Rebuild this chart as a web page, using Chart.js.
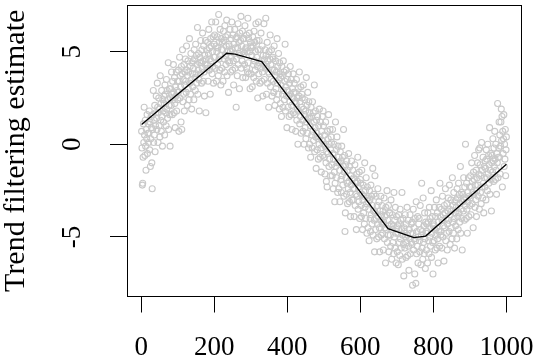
<!DOCTYPE html>
<html lang="en">
<head>
  <meta charset="UTF-8" />
  <title>Trend filtering estimate</title>
  <script src="https://cdn.jsdelivr.net/npm/chart.js"></script>
  <style>
    body { margin: 0; background: #fff; }
    #wrap { width: 534px; height: 358px; }
  </style>
</head>
<body>
  <div id="wrap"><canvas id="trendChart" width="534" height="358"></canvas></div>
  <script>
    // axis ticks
    const xTicks = [0, 200, 400, 600, 800, 1000];
    const yTicks = [-5, 0, 5];

    // fitted piecewise linear trend (knots)
    const fitX = [1, 234, 257, 330, 676, 747, 779, 1000];
    const fitY = [1.07, 4.91, 4.87, 4.46, -4.55, -5.03, -4.95, -1.07];

    // observations at x = 1..1000, 20 per line
    const yObs = [
      0.7,-0.2,-2.2,-2.1,-0.7,1.1,0.1,2.0,0.5,-0.6,1.3,-0.1,-1.4,0.8,0.3,1.6,-0.5,0.6,1.1,0.1,
      0.6,1.8,-0.3,1.2,-1.2,0.3,1.5,0.9,-1.0,-2.4,0.8,1.6,2.9,0.1,1.3,0.5,2.1,-0.4,1.0,1.7,
      2.6,1.4,0.8,3.3,2.0,0.1,1.7,2.5,1.0,1.9,0.4,3.7,1.3,2.2,0.7,2.9,1.5,-0.1,2.4,1.8,
      1.2,2.6,2.2,0.5,3.2,2.7,1.7,1.0,3.5,1.9,2.9,1.4,2.4,4.4,0.8,2.1,3.0,1.6,-0.1,2.5,
      3.0,2.1,3.9,2.7,1.6,3.4,2.4,4.3,2.8,1.7,3.6,2.2,0.9,3.1,2.6,3.9,1.8,2.9,3.4,2.4,
      2.8,4.0,0.7,3.4,4.7,2.5,3.7,3.1,1.2,4.2,0.8,3.8,5.1,2.3,3.5,2.7,4.3,1.8,3.2,3.9,
      4.6,3.4,2.8,5.3,4.0,2.1,3.7,4.5,3.0,3.9,2.4,5.7,3.3,4.2,2.7,4.9,3.5,1.9,4.4,3.8,
      3.1,4.5,4.1,2.4,5.1,4.6,3.6,2.9,5.4,3.8,4.8,3.3,4.3,6.3,2.7,4.0,4.9,3.5,1.8,4.4,
      4.7,3.8,5.6,4.4,3.3,5.1,4.1,6.0,4.5,3.4,5.3,3.9,2.6,4.8,4.3,5.6,1.7,4.6,5.1,4.1,
      4.3,5.5,3.4,4.9,6.2,4.0,5.2,4.6,2.7,5.7,4.5,5.3,6.6,3.8,5.0,4.2,5.8,3.3,4.7,5.4,
      5.9,4.7,4.1,6.6,5.3,3.4,5.0,5.8,4.3,5.2,3.7,7.0,4.6,5.5,4.0,6.2,4.8,3.2,5.7,5.1,
      4.1,5.5,5.1,3.4,6.1,5.6,4.6,3.9,6.4,4.8,5.8,4.3,5.3,6.7,3.7,5.0,5.9,4.5,2.8,5.4,
      5.3,4.4,6.2,5.0,3.9,5.7,4.7,6.6,5.1,4.0,5.9,4.5,3.2,5.4,4.9,6.2,4.1,5.2,5.7,2.0,
      4.6,5.8,3.7,5.2,6.5,4.3,5.5,4.9,3.0,6.0,4.8,5.6,6.9,4.1,5.3,4.5,6.1,3.6,5.0,5.7,
      5.7,4.9,4.3,6.4,5.1,3.6,5.2,5.9,4.1,5.0,3.9,6.8,4.4,5.7,3.8,6.0,5.0,3.0,5.5,5.3,
      3.8,5.2,4.8,3.1,5.8,5.3,4.3,3.6,6.1,4.5,5.5,4.0,5.0,6.5,3.4,4.7,5.6,4.2,2.5,5.1,
      6.6,3.8,5.6,4.4,3.3,5.1,4.1,6.0,4.5,3.4,5.3,3.9,2.6,4.8,4.3,6.5,3.5,4.6,5.1,4.1,
      6.8,4.8,2.7,4.2,5.5,3.3,4.5,3.9,2.0,5.0,3.8,4.6,5.9,3.1,4.3,3.5,5.1,2.6,4.0,4.7,
      4.6,3.4,2.8,5.3,4.0,2.1,3.7,4.5,3.0,3.9,2.4,5.7,3.3,4.2,2.7,4.9,3.5,1.9,4.4,3.8,
      2.2,3.6,3.2,1.5,4.2,3.7,2.7,2.0,4.5,2.9,3.9,2.4,3.4,5.4,1.8,3.1,4.0,2.6,0.9,3.5,
      2.9,2.0,3.8,2.6,1.5,3.3,2.3,4.2,2.7,1.6,3.5,2.1,0.8,3.0,2.5,3.8,1.7,2.8,3.3,2.3,
      1.6,2.8,0.7,2.2,3.5,1.3,2.5,1.9,0.0,3.0,1.8,2.6,3.9,1.1,2.3,1.5,3.1,0.6,2.0,2.7,
      2.5,1.3,0.7,3.2,1.9,0.0,1.6,2.4,0.9,1.8,0.3,3.6,1.2,2.1,0.6,2.8,1.4,-0.2,2.3,1.7,
      0.0,1.4,1.0,-0.7,2.0,1.5,0.5,-0.2,2.3,0.7,1.7,0.2,1.2,3.2,-0.4,0.9,1.8,0.4,-1.3,1.3,
      0.6,-0.3,1.5,0.3,-0.8,1.0,0.0,1.9,0.4,-0.7,1.2,-0.2,-1.5,0.7,0.2,1.5,-0.6,1.8,1.0,0.0,
      -0.7,0.5,-1.6,-0.1,1.2,-1.0,-2.0,-0.4,-2.3,0.7,-0.5,0.3,1.6,-1.2,0.0,-0.8,0.8,-1.7,-0.3,0.4,
      0.1,-1.1,-1.7,0.8,-0.5,-2.4,-0.8,0.0,-1.5,-3.1,-2.1,1.2,-1.2,-0.3,-1.8,0.4,-1.0,-2.6,-0.1,-0.7,
      -2.4,-1.0,-1.4,-3.1,-0.4,-0.9,-1.9,-2.6,-0.1,-1.7,-0.7,-2.2,-1.2,0.8,-2.8,-1.5,-0.6,-4.7,-3.7,-1.1,
      -1.8,-2.7,-0.9,-2.1,-3.2,-1.4,-2.4,-0.5,-2.0,-3.1,-1.2,-2.6,-3.9,-1.7,-2.2,-0.9,-3.0,-1.9,-1.4,-2.4,
      -3.0,-1.8,-3.9,-2.4,-1.1,-3.3,-2.1,-2.7,-4.6,-1.6,-2.8,-2.0,-0.7,-3.5,-2.3,-3.1,-1.5,-4.0,-2.6,-1.9,
      -2.1,-3.3,-3.9,-1.4,-2.7,-4.6,-3.0,-2.2,-3.7,-2.8,-4.3,-1.0,-3.4,-2.5,-4.0,-1.8,-3.2,-4.8,-2.3,-2.9,
      -4.5,-3.1,-3.5,-5.2,-2.5,-3.0,-4.0,-4.7,-2.2,-3.8,-2.8,-4.3,-3.3,-1.3,-4.9,-3.6,-2.7,-4.1,-5.8,-1.7,
      -3.7,-4.6,-2.8,-4.0,-5.1,-3.3,-4.3,-2.4,-3.9,-5.0,-3.1,-4.5,-5.8,-3.6,-4.1,-2.8,-4.9,-3.8,-3.3,-4.3,
      -4.8,-3.6,-5.7,-4.2,-2.9,-5.1,-3.9,-4.5,-6.4,-3.4,-4.6,-3.8,-2.5,-5.3,-4.1,-4.9,-3.3,-5.8,-4.4,-3.7,
      -3.7,-4.9,-5.5,-3.0,-4.3,-6.2,-4.6,-3.8,-5.3,-4.4,-5.9,-2.6,-5.0,-4.1,-5.6,-3.4,-4.8,-6.4,-3.9,-4.5,
      -5.8,-4.4,-4.8,-6.5,-3.8,-4.3,-5.3,-6.0,-3.5,-5.1,-4.1,-5.6,-4.6,-2.6,-6.2,-4.9,-4.0,-5.4,-7.1,-4.5,
      -4.7,-5.6,-3.8,-5.0,-6.1,-4.3,-5.3,-3.4,-4.9,-6.0,-4.1,-5.5,-6.8,-4.6,-5.1,-3.8,-5.9,-4.8,-4.3,-5.3,
      -5.4,-4.2,-7.6,-4.8,-3.5,-5.7,-4.5,-5.1,-7.0,-4.0,-5.2,-7.5,-3.1,-5.9,-4.7,-5.5,-3.9,-6.4,-5.0,-4.3,
      -4.0,-5.2,-5.8,-3.3,-4.6,-6.5,-4.9,-2.1,-5.6,-4.7,-6.2,-2.9,-5.3,-4.4,-5.9,-3.7,-5.1,-6.7,-4.2,-4.8,
      -5.7,-4.3,-4.7,-6.4,-3.7,-4.2,-5.2,-5.9,-3.4,-5.0,-4.0,-5.5,-4.5,-2.5,-6.1,-4.8,-3.9,-5.3,-7.0,-4.4,
      -4.3,-5.2,-3.4,-4.6,-5.7,-3.9,-4.9,-3.0,-4.5,-5.6,-3.7,-5.1,-6.4,-4.2,-4.7,-3.4,-5.5,-2.1,-3.9,-4.9,
      -4.7,-3.5,-5.6,-4.1,-2.8,-5.0,-3.8,-4.4,-6.3,-3.3,-4.5,-3.7,-2.4,-5.2,-4.0,-4.8,-3.2,-5.7,-4.3,-3.6,
      -2.9,-4.1,-4.7,-2.2,-3.5,-5.4,-3.8,-3.0,-4.5,-3.6,-5.1,-1.8,-4.2,-3.3,-4.8,-2.6,-4.0,-5.6,-3.1,-3.7,
      -4.4,-3.0,-3.4,-5.1,-2.4,-2.9,-3.9,-4.6,-2.1,-3.7,-2.7,-4.2,-3.2,-1.2,-4.8,-3.5,-2.6,-4.0,-5.7,-3.1,
      -2.7,-3.6,-1.8,-3.0,-4.1,-2.3,-3.3,0.0,-2.9,-4.0,-2.1,-3.5,-4.8,-2.6,-3.1,-1.8,-3.9,-2.8,-2.3,-3.3,
      -2.9,-1.7,-3.8,-2.3,-1.0,-3.2,-2.0,-2.6,-4.5,-1.5,-2.7,-1.9,-0.6,-3.4,-2.2,-3.0,-1.4,-3.9,-2.5,-1.8,
      -1.0,-2.2,-2.8,-0.3,-1.6,-3.5,-0.2,-1.1,-2.6,-1.7,-3.2,0.1,-2.3,-1.4,-2.9,-0.7,-2.1,-3.7,-1.2,-1.8,
      -2.3,-0.9,-1.3,-3.0,-0.3,-0.8,-1.8,-2.5,0.0,-1.6,-0.6,-2.1,-1.1,0.9,-2.7,-1.4,-0.5,-1.9,-3.6,-1.0,
      -0.6,-1.5,0.3,-0.9,-2.0,-0.2,-1.2,0.7,-0.8,-1.9,0.0,-1.4,-2.7,-0.5,-1.0,2.2,-1.8,-0.7,-0.2,1.2,
      -0.7,0.5,-1.6,-0.1,1.2,1.9,0.2,1.5,-2.3,0.7,-0.5,0.3,1.6,-1.2,0.0,-0.8,0.8,-1.7,-0.3,0.4
    ];

    const serif = '"Liberation Serif", "Times New Roman", serif';

    // box around the plot + rotated y tick labels (R style)
    const framePlugin = {
      id: 'framePlugin',
      afterDraw(chart) {
        const { ctx, chartArea: a, scales: { y } } = chart;
        ctx.save();
        ctx.strokeStyle = '#000';
        ctx.lineWidth = 1;
        ctx.strokeRect(Math.round(a.left) + 0.5, Math.round(a.top) + 0.5,
          Math.round(a.right - a.left), Math.round(a.bottom - a.top));
        ctx.fillStyle = '#000';
        ctx.font = '27px ' + serif;
        ctx.textAlign = 'center';
        ctx.textBaseline = 'middle';
        yTicks.forEach(v => {
          ctx.save();
          ctx.translate(73, y.getPixelForValue(v));
          ctx.rotate(-Math.PI / 2);
          ctx.fillText(String(v), 0, 0);
          ctx.restore();
        });
        ctx.restore();
      }
    };

    new Chart(document.getElementById('trendChart'), {
      type: 'scatter',
      data: {
        datasets: [
          {
            type: 'line',
            data: fitX.map((x, i) => ({ x: x, y: fitY[i] })),
            borderColor: '#000',
            borderWidth: 1.3,
            pointRadius: 0,
            tension: 0,
            fill: false,
            order: 0
          },
          {
            data: yObs.map((v, i) => ({ x: i + 1, y: v })),
            pointRadius: 3,
            pointBorderWidth: 1.1,
            borderColor: '#c9c9c9',
            backgroundColor: 'rgba(0,0,0,0)',
            showLine: false,
            order: 1
          }
        ]
      },
      options: {
        responsive: false,
        animation: false,
        events: [],
        layout: { padding: { top: 3, right: 13, left: 0, bottom: 0 } },
        plugins: { legend: { display: false }, tooltip: { enabled: false } },
        scales: {
          x: {
            type: 'linear',
            min: -39,
            max: 1040,
            afterBuildTicks: s => { s.ticks = xTicks.map(v => ({ value: v })); },
            afterFit: s => { s.height = 61.5; s.paddingLeft = 0; s.paddingRight = 0; },
            grid: { drawOnChartArea: false, drawTicks: true, tickLength: 16, color: '#000', lineWidth: 1 },
            border: { display: false },
            ticks: {
              color: '#000',
              font: { family: serif, size: 27 },
              padding: 19,
              maxRotation: 0,
              autoSkip: false,
              callback: v => String(v)
            }
          },
          y: {
            min: -8.21,
            max: 7.51,
            afterBuildTicks: s => { s.ticks = yTicks.map(v => ({ value: v })); },
            afterFit: s => { s.width = 127; },
            grid: { drawOnChartArea: false, drawTicks: true, tickLength: 17, color: '#000', lineWidth: 1 },
            border: { display: false },
            ticks: { display: false },
            title: {
              display: true,
              text: 'Trend filtering estimate',
              color: '#000',
              font: { family: serif, size: 30 },
              padding: { top: -2, bottom: 0 }
            }
          }
        }
      },
      plugins: [framePlugin]
    });
  </script>
</body>
</html>
